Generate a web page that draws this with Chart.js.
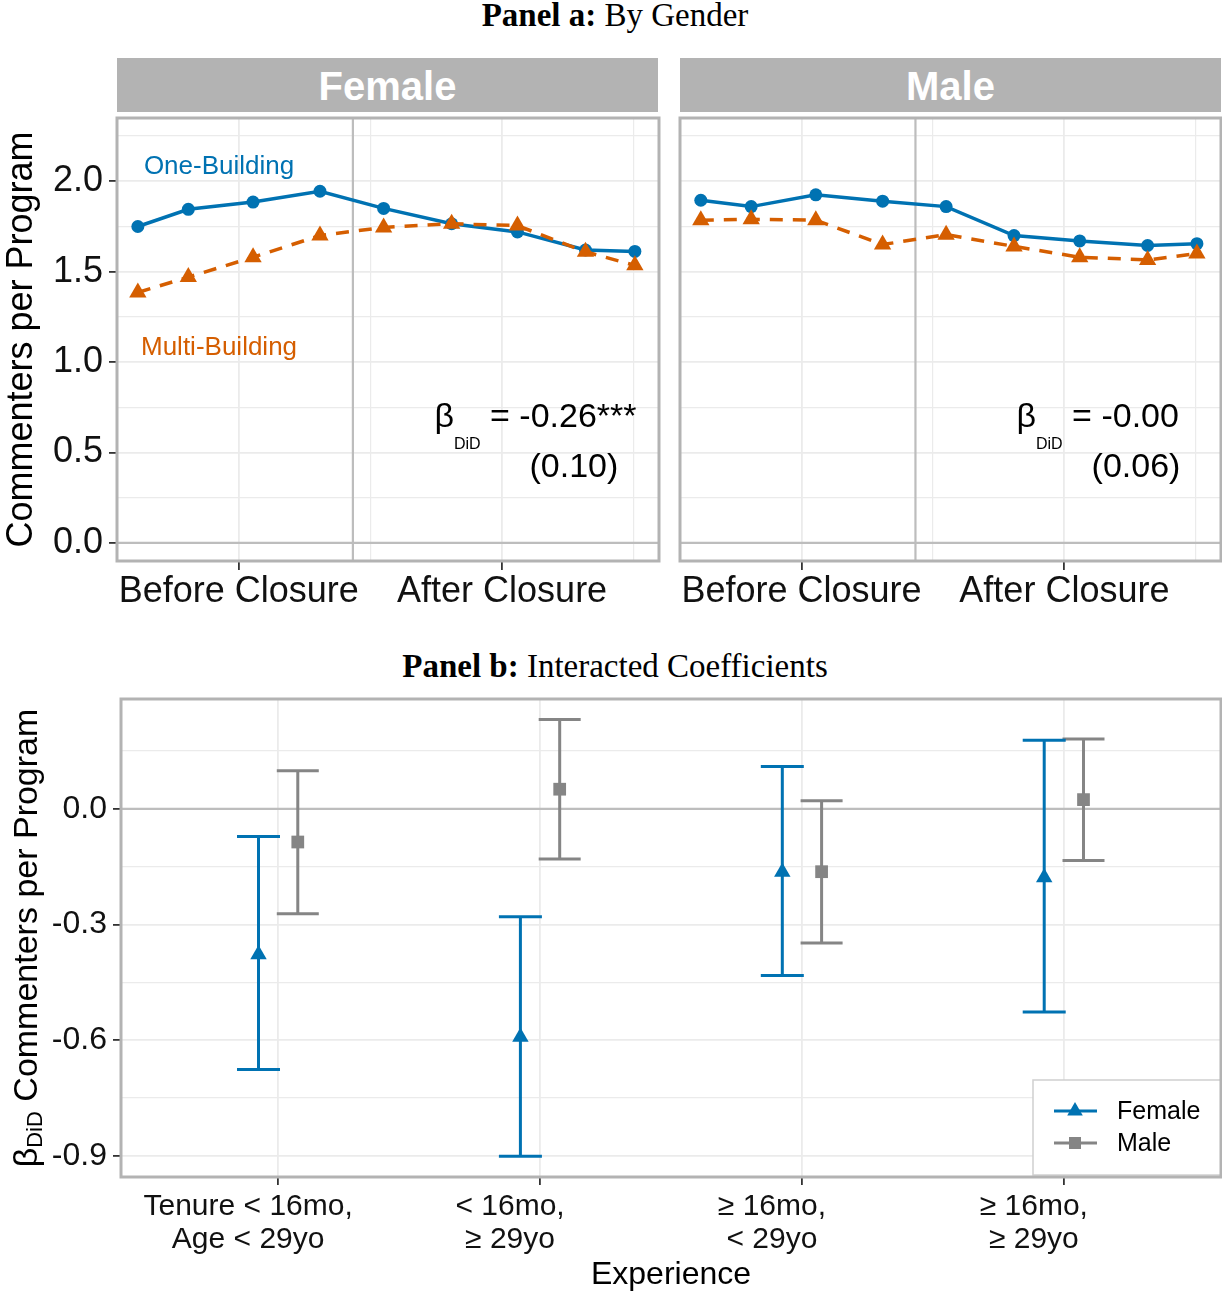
<!DOCTYPE html>
<html>
<head>
<meta charset="utf-8">
<script src="https://cdn.jsdelivr.net/npm/chart.js@4.4.1/dist/chart.umd.min.js"></script>
<style>
  body { margin: 0; background: #fff; width: 1222px; height: 1294px; position: relative; overflow: hidden; font-family: "Liberation Sans", Arial, sans-serif; }
  .ttl { position: absolute; left: 0; width: 1230px; text-align: center; font-family: "Liberation Serif", serif; font-size: 33px; color: #000; white-space: nowrap; }
  .strip { position: absolute; top: 58px; height: 54px; width: 541px; background: #b3b3b3; color: #fff; font-weight: bold; font-size: 40px; line-height: 56px; text-align: center; }
  .box { position: absolute; }
</style>
</head>
<body>
<div class="ttl" style="top:-3px"><b>Panel a:</b> By Gender</div>
<div class="strip" style="left:117px">Female</div>
<div class="strip" style="left:680px">Male</div>
<div class="box" style="left:0;top:110px;width:665px;height:515px"><canvas id="fem"></canvas></div>
<div class="box" style="left:665px;top:110px;width:557px;height:515px"><canvas id="male"></canvas></div>
<div class="ttl" style="top:648px"><b>Panel b:</b> Interacted Coefficients</div>
<div class="box" style="left:0;top:685px;width:1222px;height:609px"><canvas id="coef"></canvas></div>

<script>
const FONT = '"Liberation Sans", Arial, sans-serif';
const BLUE = "#0072B2";
const ORANGE = "#D55E00";
const GREY = "#858585";
const GRID = "#ebebeb";

// Panel a: months around the closure
const periods = [-10.6, -8.3, -5.35, -2.3, 0.6, 3.7, 6.7, 9.8, 12.05];
const periodTicks = [-6, 0, 6, 12];
const periodTickLabels = ["Before Closure", "", "After Closure", ""];
const closureAt = -0.8;
const countTicks = [0, 0.25, 0.5, 0.75, 1, 1.25, 1.5, 1.75, 2, 2.25];

const femaleOne = [1.75, 1.845, 1.885, 1.945, 1.85, 1.765, 1.72, 1.62, 1.612];
const femaleMulti = [1.385, 1.47, 1.58, 1.70, 1.745, 1.765, 1.755, 1.61, 1.535];
const maleOne = [1.895, 1.86, 1.925, 1.89, 1.86, 1.70, 1.67, 1.645, 1.655];
const maleMulti = [1.785, 1.79, 1.785, 1.65, 1.705, 1.64, 1.58, 1.565, 1.60];

const femaleBeta = ["-0.26***", "(0.10)"];
const maleBeta = ["-0.00", "(0.06)"];

// Panel b: interacted coefficients
const groups = [["Tenure < 16mo,", "Age < 29yo"], ["< 16mo,", "≥ 29yo"], ["≥ 16mo,", "< 29yo"], ["≥ 16mo,", "≥ 29yo"]];
const groupPos = [1, 2, 3, 4];
const femaleCoef = [-0.378, -0.592, -0.164, -0.178];
const femaleLow = [-0.676, -0.901, -0.432, -0.527];
const femaleHigh = [-0.072, -0.280, 0.110, 0.178];
const maleCoef = [-0.086, 0.051, -0.163, 0.024];
const maleLow = [-0.272, -0.130, -0.348, -0.134];
const maleHigh = [0.099, 0.232, 0.021, 0.181];
const coefTicks = [-0.9, -0.75, -0.6, -0.45, -0.3, -0.15, 0, 0.15];

function pairs(xs, ys) {
  return xs.map((x, i) => ({ x: x, y: ys[i] }));
}

function isStep(v, step) {
  const r = v / step;
  return Math.abs(r - Math.round(r)) < 1e-6;
}

// fixed axis sizes, no extra padding for the end labels
function fixX(h) {
  return s => { s.height = h; s.paddingLeft = 0; s.paddingRight = 0; };
}
function fixY(w) {
  return s => { s.width = w; s.paddingTop = 0; s.paddingBottom = 0; };
}

// grey frame round the plot area
const frame = {
  id: "frame",
  afterDatasetsDraw(chart) {
    const a = chart.chartArea, ctx = chart.ctx;
    ctx.save();
    ctx.strokeStyle = "#b3b3b3";
    ctx.lineWidth = 3;
    ctx.strokeRect(a.left, a.top, a.right - a.left, a.bottom - a.top);
    ctx.restore();
  }
};

// zero line and closure line
function refLines(vx) {
  return {
    id: "refLines",
    beforeDatasetsDraw(chart) {
      const { ctx, chartArea: a, scales } = chart;
      ctx.save();
      ctx.strokeStyle = "#bdbdbd";
      ctx.lineWidth = 2.2;
      ctx.beginPath();
      const y0 = scales.y.getPixelForValue(0);
      ctx.moveTo(a.left, y0); ctx.lineTo(a.right, y0);
      if (vx !== null) {
        const px = scales.x.getPixelForValue(vx);
        ctx.moveTo(px, a.top); ctx.lineTo(px, a.bottom);
      }
      ctx.stroke();
      ctx.restore();
    }
  };
}

function notes(beta, withNames) {
  return {
    id: "notes",
    afterDatasetsDraw(chart) {
      const { ctx, scales: { x, y } } = chart;
      ctx.save();
      ctx.textBaseline = "alphabetic";
      if (withNames) {
        ctx.textAlign = "center";
        ctx.font = "26px " + FONT;
        ctx.fillStyle = BLUE;
        ctx.fillText("One-Building", x.getPixelForValue(-6.9), y.getPixelForValue(2.039));
        ctx.fillStyle = ORANGE;
        ctx.fillText("Multi-Building", x.getPixelForValue(-6.9), y.getPixelForValue(1.039));
      }
      ctx.fillStyle = "#000";
      ctx.textAlign = "left";
      const big = "34px " + FONT, small = "16px " + FONT;
      const rest = " = " + beta[0];
      ctx.font = big;
      const wb = ctx.measureText("β").width, wr = ctx.measureText(rest).width;
      ctx.font = small;
      const ws = ctx.measureText("DiD").width;
      let px = x.getPixelForValue(7.52) - (wb + ws + wr) / 2;
      const base = y.getPixelForValue(0.641);
      ctx.font = big;
      ctx.fillText("β", px, base);
      px += wb;
      ctx.font = small;
      ctx.fillText("DiD", px, base + 22);
      px += ws;
      ctx.font = big;
      ctx.fillText(rest, px, base);
      ctx.textAlign = "center";
      ctx.fillText(beta[1], x.getPixelForValue(9.27), y.getPixelForValue(0.365));
      ctx.restore();
    }
  };
}

function trendChart(id, one, multi, beta, first) {
  return new Chart(document.getElementById(id), {
    type: "line",
    data: {
      datasets: [
        { label: "One-Building", data: pairs(periods, one), order: 2,
          borderColor: BLUE, backgroundColor: BLUE, borderWidth: 3.5,
          pointStyle: "circle", pointRadius: 6.5, pointBorderWidth: 0 },
        { label: "Multi-Building", data: pairs(periods, multi), order: 1,
          borderColor: ORANGE, backgroundColor: ORANGE, borderWidth: 3.5, borderDash: [13, 10],
          pointStyle: "triangle", pointRadius: 10, pointBorderWidth: 0 }
      ]
    },
    options: {
      responsive: true,
      maintainAspectRatio: false,
      animation: false,
      layout: { autoPadding: false, padding: { top: 8, right: first ? 6 : 1, left: 0, bottom: 0 } },
      plugins: { legend: { display: false }, tooltip: { enabled: false } },
      scales: {
        x: {
          type: "linear", min: -11.55, max: 13.15,
          afterBuildTicks: s => { s.ticks = periodTicks.map(v => ({ value: v })); },
          afterFit: fixX(64),
          ticks: {
            callback: (v, i) => periodTickLabels[i],
            font: { size: 36, family: FONT }, color: "#111",
            padding: 0, maxRotation: 0, minRotation: 0, autoSkip: false
          },
          grid: {
            color: GRID,
            lineWidth: c => (c.tick && periodTickLabels[c.index] ? 1.8 : 1.2),
            tickColor: c => (c.tick && periodTickLabels[c.index] ? "#333" : "rgba(0,0,0,0)"),
            tickLength: 9
          },
          border: { display: false }
        },
        y: {
          type: "linear", min: -0.1, max: 2.35,
          afterBuildTicks: s => { s.ticks = countTicks.map(v => ({ value: v })); },
          afterFit: fixY(first ? 117 : 15),
          ticks: {
            display: first,
            callback: v => (isStep(v, 0.5) ? v.toFixed(1) : ""),
            font: { size: 36, family: FONT }, color: "#111", padding: 6
          },
          grid: {
            color: GRID,
            lineWidth: c => (c.tick && isStep(c.tick.value, 0.5) ? 1.8 : 1.2),
            tickColor: c => (c.tick && isStep(c.tick.value, 0.5) ? "#333" : "rgba(0,0,0,0)"),
            tickLength: 8,
            drawTicks: first
          },
          border: { display: false },
          title: {
            display: first, text: "Commenters per Program",
            font: { size: 36, family: FONT }, color: "#000", padding: 0
          }
        }
      }
    },
    plugins: [refLines(closureAt), notes(beta, first), frame]
  });
}

trendChart("fem", femaleOne, femaleMulti, femaleBeta, true);
trendChart("male", maleOne, maleMulti, maleBeta, false);

// Panel b
const dodge = 0.075;

function barData(lo, hi, shift) {
  const d = [];
  groupPos.forEach((g, i) => {
    d.push({ x: g + shift, y: lo[i] }, { x: g + shift, y: hi[i] }, { x: g + shift, y: null });
  });
  return d;
}

const coefTitle = {
  id: "coefTitle",
  afterDraw(chart) {
    const { ctx, chartArea: a } = chart;
    const big = "34px " + FONT, small = "22px " + FONT;
    const rest = " Commenters per Program";
    ctx.save();
    ctx.font = big;
    const wb = ctx.measureText("β").width, wr = ctx.measureText(rest).width;
    ctx.font = small;
    const ws = ctx.measureText("DiD").width;
    ctx.translate(37, (a.top + a.bottom) / 2);
    ctx.rotate(-Math.PI / 2);
    ctx.fillStyle = "#000";
    ctx.textBaseline = "alphabetic";
    let px = -(wb + ws + wr) / 2;
    ctx.font = big;
    ctx.fillText("β", px, 0);
    px += wb;
    ctx.font = small;
    ctx.fillText("DiD", px, 5);
    px += ws;
    ctx.font = big;
    ctx.fillText(rest, px, 0);
    ctx.restore();
  }
};

const coefLegend = {
  id: "coefLegend",
  afterDatasetsDraw(chart) {
    const { ctx, chartArea: a } = chart;
    const left = a.right - 188, top = a.bottom - 97;
    ctx.save();
    ctx.fillStyle = "#fff";
    ctx.fillRect(left, top, 188, 95);
    ctx.strokeStyle = "#d0d0d0";
    ctx.lineWidth = 1.5;
    ctx.strokeRect(left, top, 188, 95);
    const rows = [
      { label: "Female", color: BLUE, style: "triangle", r: 9, dy: 31 },
      { label: "Male", color: GREY, style: "rect", r: 8.5, dy: 63 }
    ];
    rows.forEach(row => {
      const yy = top + row.dy;
      ctx.strokeStyle = row.color;
      ctx.lineWidth = 3;
      ctx.beginPath();
      ctx.moveTo(left + 21, yy); ctx.lineTo(left + 64, yy);
      ctx.stroke();
      ctx.fillStyle = row.color;
      Chart.helpers.drawPoint(ctx, { pointStyle: row.style, radius: row.r, borderWidth: 0, rotation: 0 }, left + 42, yy);
      ctx.fillStyle = "#000";
      ctx.font = "25px " + FONT;
      ctx.textBaseline = "middle";
      ctx.textAlign = "left";
      ctx.fillText(row.label, left + 84, yy + 1);
    });
    ctx.restore();
  }
};

new Chart(document.getElementById("coef"), {
  type: "line",
  data: {
    datasets: [
      { label: "Female", data: pairs(groupPos.map(g => g - dodge), femaleCoef), order: 1,
        showLine: false, pointStyle: "triangle", pointRadius: 9.5, pointBorderWidth: 0,
        backgroundColor: BLUE, borderColor: BLUE },
      { label: "Male", data: pairs(groupPos.map(g => g + dodge), maleCoef), order: 1,
        showLine: false, pointStyle: "rect", pointRadius: 9, pointBorderWidth: 0,
        backgroundColor: GREY, borderColor: GREY },
      { label: "Female CI", data: barData(femaleLow, femaleHigh, -dodge), order: 3,
        borderColor: BLUE, borderWidth: 3, spanGaps: false,
        pointStyle: "line", pointRadius: 21.5, pointBorderWidth: 3, pointBorderColor: BLUE },
      { label: "Male CI", data: barData(maleLow, maleHigh, dodge), order: 3,
        borderColor: GREY, borderWidth: 3, spanGaps: false,
        pointStyle: "line", pointRadius: 21, pointBorderWidth: 3, pointBorderColor: GREY }
    ]
  },
  options: {
    responsive: true,
    maintainAspectRatio: false,
    animation: false,
    layout: { autoPadding: false, padding: { top: 14, right: 1, left: 0, bottom: 0 } },
    plugins: { legend: { display: false }, tooltip: { enabled: false } },
    scales: {
      x: {
        type: "linear", min: 0.4, max: 4.6,
        afterBuildTicks: s => { s.ticks = groupPos.map(v => ({ value: v })); },
        afterFit: fixX(117),
        ticks: {
          callback: (v, i) => groups[i],
          font: { size: 30, family: FONT, lineHeight: 1.1 }, color: "#111",
          padding: 5, labelOffset: -30, maxRotation: 0, minRotation: 0, autoSkip: false
        },
        grid: { color: GRID, lineWidth: 1.8, tickColor: "#333", tickLength: 8 },
        border: { display: false },
        title: {
          display: true, text: "Experience",
          font: { size: 32, family: FONT }, color: "#000", padding: { top: 0, bottom: 0 }
        }
      },
      y: {
        type: "linear", min: -0.955, max: 0.285,
        afterBuildTicks: s => { s.ticks = coefTicks.map(v => ({ value: v })); },
        afterFit: fixY(121),
        ticks: {
          callback: v => (isStep(v, 0.3) ? v.toFixed(1) : ""),
          font: { size: 32, family: FONT }, color: "#111", padding: 6
        },
        grid: {
          color: GRID,
          lineWidth: c => (c.tick && isStep(c.tick.value, 0.3) ? 1.8 : 1.2),
          tickColor: c => (c.tick && isStep(c.tick.value, 0.3) ? "#333" : "rgba(0,0,0,0)"),
          tickLength: 8
        },
        border: { display: false }
      }
    }
  },
  plugins: [refLines(null), coefLegend, frame, coefTitle]
});
</script>
</body>
</html>
